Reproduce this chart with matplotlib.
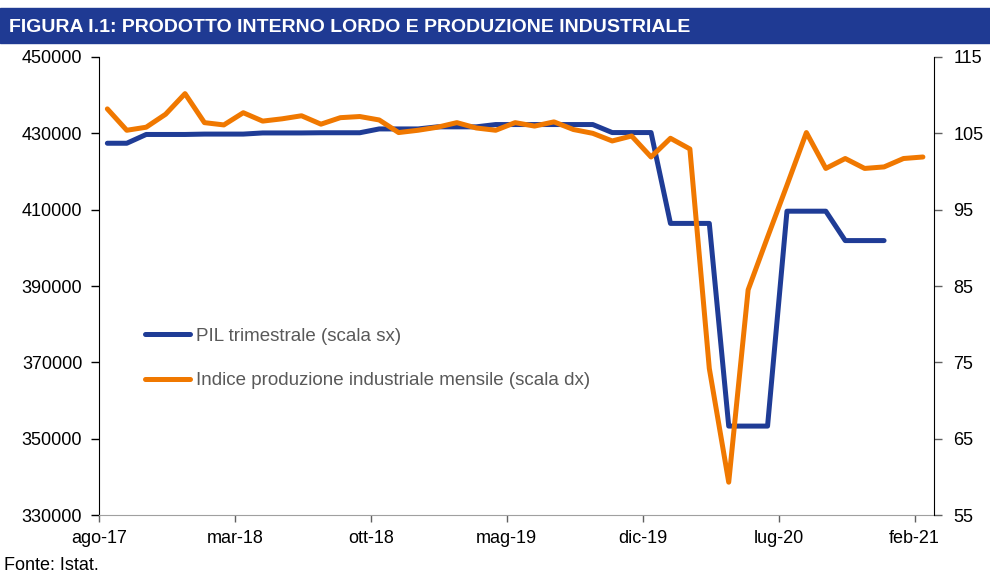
import numpy as np
import matplotlib
matplotlib.use('Agg')
import matplotlib.pyplot as plt
from matplotlib.patches import Rectangle

# Monthly axis: ago-17 ... mar-21
tick_labels = ['ago-17', 'mar-18', 'ott-18', 'mag-19', 'dic-19', 'lug-20', 'feb-21']

# PIL trimestrale (quarters Q3-17 .. Q4-20), each shown on its months
pil_quarters = ['Q3-17', 'Q4-17', 'Q1-18', 'Q2-18', 'Q3-18', 'Q4-18', 'Q1-19',
                'Q2-19', 'Q3-19', 'Q4-19', 'Q1-20', 'Q2-20', 'Q3-20', 'Q4-20']
pil_values = [427400, 429700, 429800, 430100, 430150, 431150, 431700,
              432300, 432300, 430200, 406400, 353300, 409600, 401900]
pil_months = [2] + [3] * 13   # series starts in Aug 2017

# Indice produzione industriale mensile, ago-17 .. feb-21
ipi_values = [108.2, 105.4, 105.8, 107.5, 110.2, 106.4, 106.1, 107.7, 106.6, 106.9,
              107.3, 106.2, 107.05, 107.2, 106.75, 105.1, 105.4, 105.8, 106.4, 105.7,
              105.4, 106.4, 105.95, 106.5, 105.5, 105.0, 104.0, 104.65, 101.9, 104.35,
              102.95, 74.2, 59.3, 84.5, 91.4, 98.2, 105.1, 100.4, 101.7, 100.4,
              100.6, 101.7, 101.9]

pil_monthly = np.repeat(pil_values, pil_months)
offset = 0.43  # points sit mid-month
x_pil = np.arange(len(pil_monthly)) + offset
x_ipi = np.arange(len(ipi_values)) + offset

BLUE = '#1f3c96'
ORANGE = '#f07800'
plt.rcParams['font.family'] = ['Liberation Sans', 'DejaVu Sans']

fig = plt.figure(figsize=(9.9, 5.75), dpi=100)
ax = fig.add_axes([0.1, 0.1043, 0.8434, 0.7966])
ax2 = ax.twinx()

l1, = ax.plot(x_pil, pil_monthly, color=BLUE, lw=3.6, solid_capstyle='round',
              solid_joinstyle='round', label='PIL trimestrale (scala sx)')
l2, = ax2.plot(x_ipi, ipi_values, color=ORANGE, lw=3.6, solid_capstyle='round',
               solid_joinstyle='round',
               label='Indice produzione industriale mensile (scala dx)')

ax.set_xlim(0, 43)
ax.set_ylim(330000, 450000)
ax.set_yticks(np.arange(330000, 450001, 20000))
ax2.set_ylim(55, 115)
ax2.set_yticks(np.arange(55, 116, 10))
ax.set_xticks(np.arange(0, 43, 7))
ax.set_xticklabels(tick_labels)

for a in (ax, ax2):
    a.spines['top'].set_visible(False)
ax.spines['right'].set_visible(False)
ax.spines['left'].set_color('black')
ax2.spines['right'].set_color('black')
ax2.spines['left'].set_visible(False)
ax.spines['bottom'].set_color('#a0a0a0')
ax2.spines['bottom'].set_visible(False)

ax.tick_params(axis='y', direction='out', length=6, width=1, labelsize=13, pad=6)
ax.tick_params(axis='x', direction='out', length=5, width=1, colors='#606060',
               labelcolor='black', labelsize=13, pad=6)
ax2.tick_params(axis='y', direction='out', length=6, width=1, labelsize=13, pad=8,
                colors='#606060', labelcolor='black')

leg = fig.legend(handles=[l1, l2], loc='upper left', bbox_to_anchor=(0.1465, 0.43),
                 frameon=False, fontsize=13.5, handlelength=2.4, handletextpad=0.3,
                 labelspacing=1.45, borderpad=0, borderaxespad=0)
for t in leg.get_texts():
    t.set_color('#595959')

fig.patches.append(Rectangle((0, 0.925), 1, 0.061, transform=fig.transFigure,
                             color='#1f3a93', zorder=0))
fig.text(0.009, 0.953, 'FIGURA I.1: PRODOTTO INTERNO LORDO E PRODUZIONE INDUSTRIALE',
         color='white', fontsize=14, fontweight='bold', va='center', ha='left')
fig.text(0.004, 0.002, 'Fonte: Istat.', fontsize=13, ha='left', va='bottom')

fig.savefig('out.png', dpi=100)
